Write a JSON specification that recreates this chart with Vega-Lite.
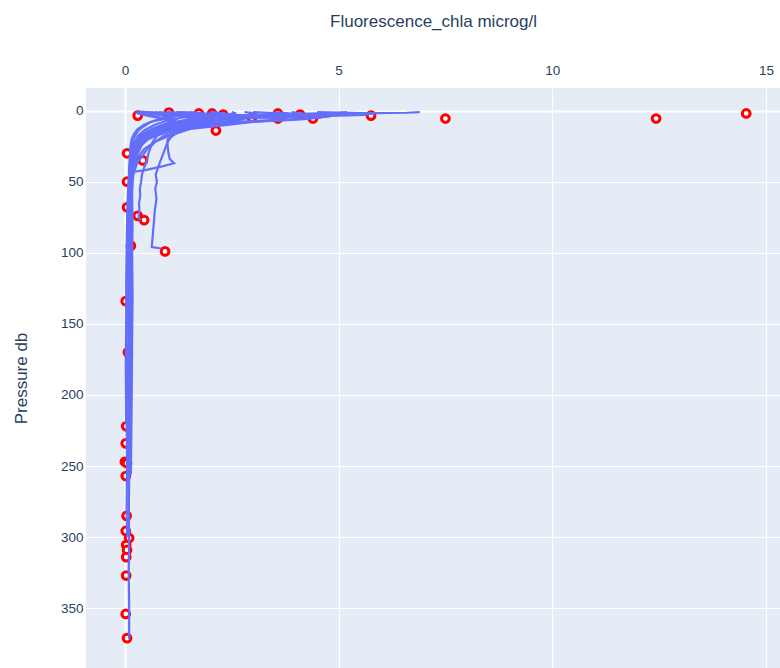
{
  "$schema": "https://vega.github.io/schema/vega-lite/v6.json",
  "autosize": "none",
  "width": 694,
  "height": 580,
  "padding": {"left": 86, "top": 88, "right": 0, "bottom": 0},
  "background": "white",
  "config": {
    "view": {"fill": "#E5ECF6", "stroke": null},
    "font": "Liberation Sans",
    "axis": {
      "domain": false,
      "ticks": false,
      "gridColor": "white",
      "gridOpacity": 1,
      "gridWidth": {"condition": {"test": "datum.value === 0", "value": 2}, "value": 1},
      "labelColor": "#2a3f5f",
      "labelFont": "Liberation Sans",
      "labelFontSize": 13.5,
      "titleColor": "#2a3f5f",
      "titleFont": "Liberation Sans",
      "titleFontSize": 17,
      "titleFontWeight": "normal"
    }
  },
  "datasets": {
    "casts": [
      {"cast": "A", "p": 1, "v": 1.0}, {"cast": "A", "p": 2, "v": 1.4}, {"cast": "A", "p": 4, "v": 1.2}, {"cast": "A", "p": 6, "v": 0.9}, {"cast": "A", "p": 8, "v": 0.6}, {"cast": "A", "p": 10, "v": 0.45}, {"cast": "A", "p": 13, "v": 0.3}, {"cast": "A", "p": 16, "v": 0.22}, {"cast": "A", "p": 20, "v": 0.16}, {"cast": "A", "p": 25, "v": 0.13}, {"cast": "A", "p": 30, "v": 0.12}, {"cast": "A", "p": 40, "v": 0.1}, {"cast": "A", "p": 55, "v": 0.09}, {"cast": "A", "p": 70, "v": 0.1}, {"cast": "A", "p": 90, "v": 0.08}, {"cast": "A", "p": 110, "v": 0.09}, {"cast": "A", "p": 130, "v": 0.08}, {"cast": "A", "p": 150, "v": 0.09}, {"cast": "A", "p": 175, "v": 0.08}, {"cast": "A", "p": 200, "v": 0.09}, {"cast": "A", "p": 225, "v": 0.08}, {"cast": "A", "p": 250, "v": 0.1}, {"cast": "A", "p": 275, "v": 0.09}, {"cast": "A", "p": 300, "v": 0.1}, {"cast": "A", "p": 325, "v": 0.09}, {"cast": "A", "p": 350, "v": 0.1}, {"cast": "A", "p": 372, "v": 0.1},

      {"cast": "B", "p": 1, "v": 6.9}, {"cast": "B", "p": 1.5, "v": 6.6}, {"cast": "B", "p": 2, "v": 5.5}, {"cast": "B", "p": 3, "v": 4.0}, {"cast": "B", "p": 4, "v": 2.8}, {"cast": "B", "p": 5, "v": 2.0}, {"cast": "B", "p": 7, "v": 1.4}, {"cast": "B", "p": 9, "v": 1.0}, {"cast": "B", "p": 12, "v": 0.7}, {"cast": "B", "p": 15, "v": 0.5}, {"cast": "B", "p": 18, "v": 0.35}, {"cast": "B", "p": 22, "v": 0.25}, {"cast": "B", "p": 27, "v": 0.18}, {"cast": "B", "p": 35, "v": 0.14}, {"cast": "B", "p": 45, "v": 0.1}, {"cast": "B", "p": 60, "v": 0.07}, {"cast": "B", "p": 80, "v": 0.05}, {"cast": "B", "p": 100, "v": 0.04}, {"cast": "B", "p": 120, "v": 0.03}, {"cast": "B", "p": 150, "v": 0.03}, {"cast": "B", "p": 180, "v": 0.02}, {"cast": "B", "p": 220, "v": 0.03},

      {"cast": "C", "p": 1, "v": 4.5}, {"cast": "C", "p": 2, "v": 5.8}, {"cast": "C", "p": 3, "v": 5.6}, {"cast": "C", "p": 4, "v": 4.4}, {"cast": "C", "p": 5, "v": 3.2}, {"cast": "C", "p": 6, "v": 2.4}, {"cast": "C", "p": 8, "v": 1.7}, {"cast": "C", "p": 10, "v": 1.2}, {"cast": "C", "p": 13, "v": 0.8}, {"cast": "C", "p": 16, "v": 0.55}, {"cast": "C", "p": 20, "v": 0.35}, {"cast": "C", "p": 25, "v": 0.25}, {"cast": "C", "p": 30, "v": 0.2}, {"cast": "C", "p": 40, "v": 0.17}, {"cast": "C", "p": 55, "v": 0.16}, {"cast": "C", "p": 70, "v": 0.15}, {"cast": "C", "p": 90, "v": 0.16}, {"cast": "C", "p": 110, "v": 0.15}, {"cast": "C", "p": 135, "v": 0.16}, {"cast": "C", "p": 160, "v": 0.15}, {"cast": "C", "p": 190, "v": 0.14}, {"cast": "C", "p": 250, "v": 0.13},

      {"cast": "D", "p": 1, "v": 3.5}, {"cast": "D", "p": 3, "v": 4.2}, {"cast": "D", "p": 5, "v": 4.6}, {"cast": "D", "p": 6, "v": 4.0}, {"cast": "D", "p": 7, "v": 3.2}, {"cast": "D", "p": 9, "v": 2.2}, {"cast": "D", "p": 11, "v": 1.5}, {"cast": "D", "p": 14, "v": 0.9}, {"cast": "D", "p": 17, "v": 0.6}, {"cast": "D", "p": 21, "v": 0.4}, {"cast": "D", "p": 26, "v": 0.28}, {"cast": "D", "p": 32, "v": 0.2}, {"cast": "D", "p": 40, "v": 0.16}, {"cast": "D", "p": 50, "v": 0.13}, {"cast": "D", "p": 65, "v": 0.11}, {"cast": "D", "p": 80, "v": 0.1}, {"cast": "D", "p": 95, "v": 0.12},

      {"cast": "E", "p": 1, "v": 2.0}, {"cast": "E", "p": 3, "v": 2.6}, {"cast": "E", "p": 6, "v": 3.8}, {"cast": "E", "p": 8, "v": 3.0}, {"cast": "E", "p": 10, "v": 2.4}, {"cast": "E", "p": 12, "v": 1.8}, {"cast": "E", "p": 14, "v": 1.2}, {"cast": "E", "p": 17, "v": 0.8}, {"cast": "E", "p": 20, "v": 0.55}, {"cast": "E", "p": 24, "v": 0.4}, {"cast": "E", "p": 30, "v": 0.3}, {"cast": "E", "p": 38, "v": 0.22}, {"cast": "E", "p": 45, "v": 0.18}, {"cast": "E", "p": 55, "v": 0.15}, {"cast": "E", "p": 68, "v": 0.12},

      {"cast": "F", "p": 1, "v": 1.2}, {"cast": "F", "p": 3, "v": 2.4}, {"cast": "F", "p": 6, "v": 2.8}, {"cast": "F", "p": 9, "v": 2.2}, {"cast": "F", "p": 12, "v": 1.6}, {"cast": "F", "p": 16, "v": 1.2}, {"cast": "F", "p": 20, "v": 1.0}, {"cast": "F", "p": 25, "v": 1.0}, {"cast": "F", "p": 30, "v": 1.02}, {"cast": "F", "p": 34, "v": 1.05}, {"cast": "F", "p": 37, "v": 1.15}, {"cast": "F", "p": 39, "v": 0.9}, {"cast": "F", "p": 42, "v": 0.45}, {"cast": "F", "p": 43, "v": 0.2}, {"cast": "F", "p": 46, "v": 0.12}, {"cast": "F", "p": 55, "v": 0.1}, {"cast": "F", "p": 70, "v": 0.09}, {"cast": "F", "p": 90, "v": 0.08}, {"cast": "F", "p": 110, "v": 0.08}, {"cast": "F", "p": 135, "v": 0.07},

      {"cast": "G", "p": 1, "v": 1.6}, {"cast": "G", "p": 3, "v": 2.0}, {"cast": "G", "p": 5, "v": 2.3}, {"cast": "G", "p": 8, "v": 2.0}, {"cast": "G", "p": 11, "v": 1.6}, {"cast": "G", "p": 14, "v": 1.3}, {"cast": "G", "p": 18, "v": 1.1}, {"cast": "G", "p": 22, "v": 1.0}, {"cast": "G", "p": 26, "v": 0.95}, {"cast": "G", "p": 30, "v": 0.9}, {"cast": "G", "p": 34, "v": 0.85}, {"cast": "G", "p": 38, "v": 0.8}, {"cast": "G", "p": 45, "v": 0.72}, {"cast": "G", "p": 50, "v": 0.75}, {"cast": "G", "p": 55, "v": 0.71}, {"cast": "G", "p": 62, "v": 0.74}, {"cast": "G", "p": 70, "v": 0.7}, {"cast": "G", "p": 78, "v": 0.68}, {"cast": "G", "p": 85, "v": 0.66}, {"cast": "G", "p": 92, "v": 0.64}, {"cast": "G", "p": 96, "v": 0.63}, {"cast": "G", "p": 97, "v": 0.85},

      {"cast": "H", "p": 1, "v": 1.0}, {"cast": "H", "p": 3, "v": 1.7}, {"cast": "H", "p": 6, "v": 2.1}, {"cast": "H", "p": 9, "v": 1.7}, {"cast": "H", "p": 12, "v": 1.2}, {"cast": "H", "p": 15, "v": 0.9}, {"cast": "H", "p": 18, "v": 0.75}, {"cast": "H", "p": 22, "v": 0.65}, {"cast": "H", "p": 26, "v": 0.6}, {"cast": "H", "p": 30, "v": 0.55}, {"cast": "H", "p": 35, "v": 0.52}, {"cast": "H", "p": 40, "v": 0.45}, {"cast": "H", "p": 45, "v": 0.4}, {"cast": "H", "p": 50, "v": 0.38}, {"cast": "H", "p": 55, "v": 0.35}, {"cast": "H", "p": 60, "v": 0.36}, {"cast": "H", "p": 65, "v": 0.33}, {"cast": "H", "p": 70, "v": 0.34}, {"cast": "H", "p": 75, "v": 0.32}, {"cast": "H", "p": 77, "v": 0.36},

      {"cast": "I", "p": 1, "v": 0.5}, {"cast": "I", "p": 3, "v": 0.8}, {"cast": "I", "p": 6, "v": 1.2}, {"cast": "I", "p": 9, "v": 1.0}, {"cast": "I", "p": 12, "v": 0.7}, {"cast": "I", "p": 16, "v": 0.45}, {"cast": "I", "p": 20, "v": 0.3}, {"cast": "I", "p": 25, "v": 0.2}, {"cast": "I", "p": 30, "v": 0.15}, {"cast": "I", "p": 40, "v": 0.12}, {"cast": "I", "p": 50, "v": 0.1},

      {"cast": "J", "p": 1, "v": 0.35}, {"cast": "J", "p": 3, "v": 0.6}, {"cast": "J", "p": 6, "v": 0.9}, {"cast": "J", "p": 9, "v": 1.3}, {"cast": "J", "p": 12, "v": 1.1}, {"cast": "J", "p": 15, "v": 0.7}, {"cast": "J", "p": 20, "v": 0.4}, {"cast": "J", "p": 25, "v": 0.25}, {"cast": "J", "p": 30, "v": 0.15},

      {"cast": "K", "p": 1, "v": 3.0}, {"cast": "K", "p": 2, "v": 3.6}, {"cast": "K", "p": 3, "v": 3.4}, {"cast": "K", "p": 5, "v": 2.6}, {"cast": "K", "p": 7, "v": 1.9}, {"cast": "K", "p": 10, "v": 1.3}, {"cast": "K", "p": 13, "v": 0.9}, {"cast": "K", "p": 17, "v": 0.6}, {"cast": "K", "p": 21, "v": 0.4}, {"cast": "K", "p": 26, "v": 0.28}, {"cast": "K", "p": 32, "v": 0.2}, {"cast": "K", "p": 40, "v": 0.14}, {"cast": "K", "p": 50, "v": 0.11}, {"cast": "K", "p": 60, "v": 0.1}, {"cast": "K", "p": 68, "v": 0.08},

      {"cast": "L", "p": 1, "v": 2.0}, {"cast": "L", "p": 2, "v": 2.3}, {"cast": "L", "p": 4, "v": 2.1}, {"cast": "L", "p": 6, "v": 1.6}, {"cast": "L", "p": 9, "v": 1.1}, {"cast": "L", "p": 12, "v": 0.75}, {"cast": "L", "p": 16, "v": 0.5}, {"cast": "L", "p": 20, "v": 0.32}, {"cast": "L", "p": 25, "v": 0.22}, {"cast": "L", "p": 32, "v": 0.15}, {"cast": "L", "p": 40, "v": 0.11}, {"cast": "L", "p": 55, "v": 0.08}, {"cast": "L", "p": 75, "v": 0.06}, {"cast": "L", "p": 100, "v": 0.05}, {"cast": "L", "p": 130, "v": 0.05}, {"cast": "L", "p": 160, "v": 0.04}, {"cast": "L", "p": 190, "v": 0.05}, {"cast": "L", "p": 220, "v": 0.04}, {"cast": "L", "p": 250, "v": 0.05}, {"cast": "L", "p": 280, "v": 0.04}, {"cast": "L", "p": 300, "v": 0.05},

      {"cast": "M", "p": 1, "v": 1.3}, {"cast": "M", "p": 2, "v": 1.8}, {"cast": "M", "p": 4, "v": 1.5}, {"cast": "M", "p": 7, "v": 1.0}, {"cast": "M", "p": 10, "v": 0.7}, {"cast": "M", "p": 14, "v": 0.45}, {"cast": "M", "p": 18, "v": 0.3}, {"cast": "M", "p": 24, "v": 0.2}, {"cast": "M", "p": 30, "v": 0.16}, {"cast": "M", "p": 40, "v": 0.13}, {"cast": "M", "p": 55, "v": 0.12}, {"cast": "M", "p": 70, "v": 0.13}, {"cast": "M", "p": 90, "v": 0.11}, {"cast": "M", "p": 110, "v": 0.12}, {"cast": "M", "p": 130, "v": 0.11}, {"cast": "M", "p": 150, "v": 0.12}, {"cast": "M", "p": 170, "v": 0.1},

      {"cast": "N", "p": 1, "v": 2.8}, {"cast": "N", "p": 2, "v": 3.1}, {"cast": "N", "p": 4, "v": 2.9}, {"cast": "N", "p": 6, "v": 2.3}, {"cast": "N", "p": 8, "v": 1.8}, {"cast": "N", "p": 11, "v": 1.3}, {"cast": "N", "p": 14, "v": 0.9}, {"cast": "N", "p": 18, "v": 0.55}, {"cast": "N", "p": 23, "v": 0.35}, {"cast": "N", "p": 28, "v": 0.25}, {"cast": "N", "p": 35, "v": 0.2}, {"cast": "N", "p": 45, "v": 0.18}, {"cast": "N", "p": 60, "v": 0.17}, {"cast": "N", "p": 80, "v": 0.18}, {"cast": "N", "p": 100, "v": 0.17}, {"cast": "N", "p": 130, "v": 0.18}, {"cast": "N", "p": 160, "v": 0.17}, {"cast": "N", "p": 200, "v": 0.16}, {"cast": "N", "p": 230, "v": 0.15}, {"cast": "N", "p": 256, "v": 0.14},

      {"cast": "O", "p": 1, "v": 0.6}, {"cast": "O", "p": 3, "v": 1.0}, {"cast": "O", "p": 5, "v": 1.5}, {"cast": "O", "p": 8, "v": 1.9}, {"cast": "O", "p": 11, "v": 1.75}, {"cast": "O", "p": 14, "v": 1.4}, {"cast": "O", "p": 18, "v": 1.0}, {"cast": "O", "p": 22, "v": 0.7}, {"cast": "O", "p": 27, "v": 0.45}, {"cast": "O", "p": 33, "v": 0.3}, {"cast": "O", "p": 40, "v": 0.2}, {"cast": "O", "p": 50, "v": 0.16}, {"cast": "O", "p": 65, "v": 0.14}, {"cast": "O", "p": 80, "v": 0.13}, {"cast": "O", "p": 95, "v": 0.12},

      {"cast": "P", "p": 0.5, "v": 0.3}, {"cast": "P", "p": 1, "v": 0.5}, {"cast": "P", "p": 2, "v": 0.9}, {"cast": "P", "p": 3, "v": 1.4}, {"cast": "P", "p": 4, "v": 1.8}, {"cast": "P", "p": 5, "v": 2.0}, {"cast": "P", "p": 6, "v": 1.9}, {"cast": "P", "p": 7, "v": 1.6}, {"cast": "P", "p": 8, "v": 1.5}, {"cast": "P", "p": 9, "v": 1.2}, {"cast": "P", "p": 10, "v": 1.1}, {"cast": "P", "p": 11, "v": 0.95}, {"cast": "P", "p": 12, "v": 0.9}, {"cast": "P", "p": 13, "v": 0.8}, {"cast": "P", "p": 14, "v": 0.85}, {"cast": "P", "p": 15, "v": 0.7}, {"cast": "P", "p": 16, "v": 0.6}, {"cast": "P", "p": 18, "v": 0.55}, {"cast": "P", "p": 20, "v": 0.45}, {"cast": "P", "p": 22, "v": 0.4}, {"cast": "P", "p": 24, "v": 0.32}, {"cast": "P", "p": 26, "v": 0.3}, {"cast": "P", "p": 28, "v": 0.25}, {"cast": "P", "p": 30, "v": 0.22}, {"cast": "P", "p": 34, "v": 0.18}, {"cast": "P", "p": 38, "v": 0.16}, {"cast": "P", "p": 45, "v": 0.14}, {"cast": "P", "p": 55, "v": 0.12}, {"cast": "P", "p": 65, "v": 0.13}, {"cast": "P", "p": 80, "v": 0.11}, {"cast": "P", "p": 100, "v": 0.12}, {"cast": "P", "p": 120, "v": 0.1}, {"cast": "P", "p": 140, "v": 0.11}, {"cast": "P", "p": 160, "v": 0.1}, {"cast": "P", "p": 190, "v": 0.11}, {"cast": "P", "p": 210, "v": 0.1},

      {"cast": "Q", "p": 1, "v": 2.5}, {"cast": "Q", "p": 2, "v": 2.6}, {"cast": "Q", "p": 3, "v": 2.4}, {"cast": "Q", "p": 4, "v": 2.5}, {"cast": "Q", "p": 5, "v": 2.2}, {"cast": "Q", "p": 6, "v": 2.3}, {"cast": "Q", "p": 7, "v": 2.0}, {"cast": "Q", "p": 8, "v": 1.6}, {"cast": "Q", "p": 9, "v": 1.3}, {"cast": "Q", "p": 10, "v": 1.35}, {"cast": "Q", "p": 11, "v": 1.1}, {"cast": "Q", "p": 12, "v": 1.0}, {"cast": "Q", "p": 13, "v": 0.85}, {"cast": "Q", "p": 14, "v": 0.9}, {"cast": "Q", "p": 15, "v": 0.75}, {"cast": "Q", "p": 17, "v": 0.6}, {"cast": "Q", "p": 19, "v": 0.5}, {"cast": "Q", "p": 21, "v": 0.42}, {"cast": "Q", "p": 24, "v": 0.35}, {"cast": "Q", "p": 27, "v": 0.3}, {"cast": "Q", "p": 30, "v": 0.25}, {"cast": "Q", "p": 35, "v": 0.2}, {"cast": "Q", "p": 42, "v": 0.17}, {"cast": "Q", "p": 50, "v": 0.15}, {"cast": "Q", "p": 60, "v": 0.14},

      {"cast": "R", "p": 1, "v": 5.2}, {"cast": "R", "p": 1.5, "v": 5.0}, {"cast": "R", "p": 2, "v": 4.6}, {"cast": "R", "p": 2.5, "v": 3.9}, {"cast": "R", "p": 3, "v": 3.0}, {"cast": "R", "p": 4, "v": 2.2}, {"cast": "R", "p": 5, "v": 1.8}, {"cast": "R", "p": 6, "v": 1.5}, {"cast": "R", "p": 8, "v": 1.2}, {"cast": "R", "p": 10, "v": 0.95}, {"cast": "R", "p": 12, "v": 0.8}, {"cast": "R", "p": 14, "v": 0.6}, {"cast": "R", "p": 17, "v": 0.45}, {"cast": "R", "p": 20, "v": 0.35}, {"cast": "R", "p": 25, "v": 0.25}, {"cast": "R", "p": 30, "v": 0.2}, {"cast": "R", "p": 40, "v": 0.15}, {"cast": "R", "p": 60, "v": 0.12}, {"cast": "R", "p": 90, "v": 0.1}, {"cast": "R", "p": 120, "v": 0.1}, {"cast": "R", "p": 150, "v": 0.09}, {"cast": "R", "p": 180, "v": 0.1}, {"cast": "R", "p": 205, "v": 0.09},

      {"cast": "S", "p": 1, "v": 3.9}, {"cast": "S", "p": 2, "v": 4.1}, {"cast": "S", "p": 3, "v": 4.3}, {"cast": "S", "p": 4, "v": 4.8}, {"cast": "S", "p": 5, "v": 4.5}, {"cast": "S", "p": 6, "v": 4.2}, {"cast": "S", "p": 7, "v": 3.6}, {"cast": "S", "p": 8, "v": 2.9}, {"cast": "S", "p": 9, "v": 2.3}, {"cast": "S", "p": 10, "v": 1.9}, {"cast": "S", "p": 11, "v": 1.5}, {"cast": "S", "p": 12, "v": 1.3}, {"cast": "S", "p": 14, "v": 1.0}, {"cast": "S", "p": 16, "v": 0.8}, {"cast": "S", "p": 19, "v": 0.6}, {"cast": "S", "p": 22, "v": 0.45}, {"cast": "S", "p": 26, "v": 0.35}, {"cast": "S", "p": 30, "v": 0.28}, {"cast": "S", "p": 36, "v": 0.22}, {"cast": "S", "p": 44, "v": 0.18}, {"cast": "S", "p": 55, "v": 0.15}, {"cast": "S", "p": 70, "v": 0.13}, {"cast": "S", "p": 85, "v": 0.12},

      {"cast": "T", "p": 1, "v": 0.8}, {"cast": "T", "p": 2, "v": 1.1}, {"cast": "T", "p": 3, "v": 1.3}, {"cast": "T", "p": 4, "v": 1.6}, {"cast": "T", "p": 5, "v": 1.5}, {"cast": "T", "p": 6, "v": 1.7}, {"cast": "T", "p": 7, "v": 1.4}, {"cast": "T", "p": 8, "v": 1.3}, {"cast": "T", "p": 9, "v": 1.1}, {"cast": "T", "p": 10, "v": 1.15}, {"cast": "T", "p": 11, "v": 0.9}, {"cast": "T", "p": 12, "v": 0.85}, {"cast": "T", "p": 13, "v": 0.7}, {"cast": "T", "p": 14, "v": 0.75}, {"cast": "T", "p": 15, "v": 0.6}, {"cast": "T", "p": 16, "v": 0.55}, {"cast": "T", "p": 18, "v": 0.45}, {"cast": "T", "p": 20, "v": 0.4}, {"cast": "T", "p": 22, "v": 0.36}, {"cast": "T", "p": 25, "v": 0.3}, {"cast": "T", "p": 28, "v": 0.33}, {"cast": "T", "p": 31, "v": 0.27}, {"cast": "T", "p": 34, "v": 0.3}, {"cast": "T", "p": 37, "v": 0.25}, {"cast": "T", "p": 40, "v": 0.2},

      {"cast": "U", "p": 1, "v": 1.5}, {"cast": "U", "p": 2, "v": 1.7}, {"cast": "U", "p": 3, "v": 1.9}, {"cast": "U", "p": 4, "v": 2.0}, {"cast": "U", "p": 5, "v": 2.4}, {"cast": "U", "p": 6, "v": 2.6}, {"cast": "U", "p": 7, "v": 2.5}, {"cast": "U", "p": 8, "v": 2.2}, {"cast": "U", "p": 9, "v": 2.0}, {"cast": "U", "p": 10, "v": 1.7}, {"cast": "U", "p": 11, "v": 1.5}, {"cast": "U", "p": 12, "v": 1.4}, {"cast": "U", "p": 13, "v": 1.3}, {"cast": "U", "p": 14, "v": 1.2}, {"cast": "U", "p": 15, "v": 1.1}, {"cast": "U", "p": 16, "v": 1.15}, {"cast": "U", "p": 17, "v": 1.0}, {"cast": "U", "p": 18, "v": 0.9}, {"cast": "U", "p": 19, "v": 0.85}, {"cast": "U", "p": 20, "v": 0.8}, {"cast": "U", "p": 22, "v": 0.7}, {"cast": "U", "p": 24, "v": 0.65}, {"cast": "U", "p": 26, "v": 0.55}, {"cast": "U", "p": 28, "v": 0.5}, {"cast": "U", "p": 30, "v": 0.45}, {"cast": "U", "p": 33, "v": 0.38}, {"cast": "U", "p": 36, "v": 0.3}, {"cast": "U", "p": 40, "v": 0.25}, {"cast": "U", "p": 45, "v": 0.2}, {"cast": "U", "p": 50, "v": 0.18}, {"cast": "U", "p": 60, "v": 0.15}, {"cast": "U", "p": 75, "v": 0.13}, {"cast": "U", "p": 90, "v": 0.12}, {"cast": "U", "p": 110, "v": 0.11}, {"cast": "U", "p": 130, "v": 0.1}, {"cast": "U", "p": 150, "v": 0.1}, {"cast": "U", "p": 180, "v": 0.09}, {"cast": "U", "p": 234, "v": 0.09},

      {"cast": "V", "p": 1, "v": 0.25}, {"cast": "V", "p": 2, "v": 0.3}, {"cast": "V", "p": 3, "v": 0.45}, {"cast": "V", "p": 4, "v": 0.6}, {"cast": "V", "p": 5, "v": 0.8}, {"cast": "V", "p": 6, "v": 1.0}, {"cast": "V", "p": 7, "v": 1.1}, {"cast": "V", "p": 8, "v": 1.25}, {"cast": "V", "p": 9, "v": 1.1}, {"cast": "V", "p": 10, "v": 1.0}, {"cast": "V", "p": 12, "v": 0.9}, {"cast": "V", "p": 14, "v": 0.75}, {"cast": "V", "p": 16, "v": 0.6}, {"cast": "V", "p": 18, "v": 0.5}, {"cast": "V", "p": 20, "v": 0.42}, {"cast": "V", "p": 23, "v": 0.35}, {"cast": "V", "p": 26, "v": 0.28}, {"cast": "V", "p": 29, "v": 0.24}, {"cast": "V", "p": 32, "v": 0.2}, {"cast": "V", "p": 36, "v": 0.17}, {"cast": "V", "p": 40, "v": 0.15}, {"cast": "V", "p": 48, "v": 0.13}, {"cast": "V", "p": 56, "v": 0.12}, {"cast": "V", "p": 68, "v": 0.11},

      {"cast": "W", "p": 1, "v": 0.7}, {"cast": "W", "p": 2, "v": 0.9}, {"cast": "W", "p": 3, "v": 1.2}, {"cast": "W", "p": 4, "v": 1.1}, {"cast": "W", "p": 5, "v": 0.95}, {"cast": "W", "p": 6, "v": 0.8}, {"cast": "W", "p": 7, "v": 0.7}, {"cast": "W", "p": 8, "v": 0.6}, {"cast": "W", "p": 10, "v": 0.5}, {"cast": "W", "p": 12, "v": 0.4}, {"cast": "W", "p": 14, "v": 0.32}, {"cast": "W", "p": 17, "v": 0.25}, {"cast": "W", "p": 20, "v": 0.2}, {"cast": "W", "p": 24, "v": 0.17}, {"cast": "W", "p": 28, "v": 0.15}, {"cast": "W", "p": 34, "v": 0.13}, {"cast": "W", "p": 40, "v": 0.12}, {"cast": "W", "p": 50, "v": 0.11}, {"cast": "W", "p": 60, "v": 0.1}, {"cast": "W", "p": 75, "v": 0.11}, {"cast": "W", "p": 90, "v": 0.1}, {"cast": "W", "p": 105, "v": 0.11}, {"cast": "W", "p": 120, "v": 0.1}, {"cast": "W", "p": 140, "v": 0.11}, {"cast": "W", "p": 160, "v": 0.1}, {"cast": "W", "p": 180, "v": 0.11}, {"cast": "W", "p": 200, "v": 0.1}, {"cast": "W", "p": 220, "v": 0.11}, {"cast": "W", "p": 240, "v": 0.1}, {"cast": "W", "p": 260, "v": 0.1}, {"cast": "W", "p": 285, "v": 0.09}
    ],
    "samples": [
      {"p": 3.5, "v": 0.3}, {"p": 1.4, "v": 1.03}, {"p": 2, "v": 1.73}, {"p": 2, "v": 2.04}, {"p": 2.8, "v": 2.3}, {"p": 5, "v": 2.97}, {"p": 14, "v": 2.13}, {"p": 2, "v": 3.58}, {"p": 5.6, "v": 3.58}, {"p": 2.8, "v": 4.1}, {"p": 5.6, "v": 4.4}, {"p": 3.5, "v": 5.76}, {"p": 5.6, "v": 7.5}, {"p": 5.6, "v": 12.43}, {"p": 2, "v": 14.54},
      {"p": 30, "v": 0.05}, {"p": 35, "v": 0.42}, {"p": 50, "v": 0.05}, {"p": 68, "v": 0.05}, {"p": 74, "v": 0.3}, {"p": 77, "v": 0.45}, {"p": 95, "v": 0.14}, {"p": 99, "v": 0.94}, {"p": 134, "v": 0.02}, {"p": 170, "v": 0.07},
      {"p": 222, "v": 0.03}, {"p": 234, "v": 0.02}, {"p": 247, "v": 0.0}, {"p": 248, "v": 0.05}, {"p": 257, "v": 0.02}, {"p": 285, "v": 0.04}, {"p": 295.6, "v": 0.02}, {"p": 300.6, "v": 0.1}, {"p": 305.5, "v": 0.03}, {"p": 309, "v": 0.05}, {"p": 314, "v": 0.03}, {"p": 327, "v": 0.03}, {"p": 354, "v": 0.02}, {"p": 371, "v": 0.05}
    ]
  },
  "encoding": {
    "x": {
      "field": "v",
      "type": "quantitative",
      "scale": {"domain": [-0.91, 15.33], "nice": false, "zero": false},
      "axis": {
        "orient": "top",
        "values": [0, 5, 10, 15],
        "title": "Fluorescence_chla microg/l",
        "labelPadding": 11,
        "titlePadding": 33
      }
    },
    "y": {
      "field": "p",
      "type": "quantitative",
      "scale": {"domain": [-15.9, 392], "reverse": true, "nice": false, "zero": false},
      "axis": {
        "values": [0, 50, 100, 150, 200, 250, 300, 350],
        "title": "Pressure db",
        "labelPadding": 3,
        "titlePadding": 30
      }
    }
  },
  "layer": [
    {
      "data": {"name": "samples"},
      "mark": {"type": "point", "shape": "circle", "filled": false, "fill": "white", "fillOpacity": 1, "stroke": "#ff0000", "strokeWidth": 3, "size": 60, "opacity": 1, "clip": true}
    },
    {
      "data": {"name": "casts"},
      "mark": {"type": "line", "color": "#636efa", "strokeWidth": 2.2, "clip": true},
      "encoding": {
        "detail": {"field": "cast", "type": "nominal"},
        "order": {"field": "p", "type": "quantitative"}
      }
    }
  ]
}
